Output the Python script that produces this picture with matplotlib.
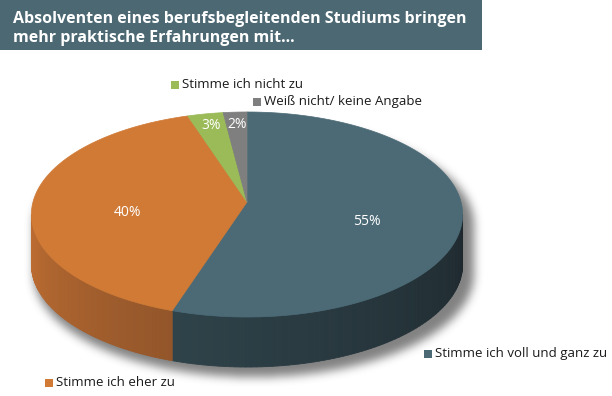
import numpy as np
import matplotlib
matplotlib.use('Agg')
import matplotlib.pyplot as plt
from matplotlib.patches import Polygon, Rectangle
from matplotlib.path import Path
from matplotlib.colors import to_rgb

# chart data
title_lines = ['Absolventen eines berufsbegleitenden Studiums bringen',
               'mehr praktische Erfahrungen mit...']
labels = ['Stimme ich voll und ganz zu', 'Stimme ich eher zu',
          'Stimme ich nicht zu', 'Weiß nicht/ keine Angabe']
values = [55, 40, 3, 2]
colors = ['#4b6a76', '#d07a36', '#9bbb59', '#7f7f7f']
side_light = ['#2f434a', '#c06e32', '#7d9a45', '#666666']
side_dark = ['#1e292e', '#93562a', '#60783a', '#4d4d4d']

# pie geometry in pixels (y grows downward)
CX, CY = 247, 202
A, B, P = 214, 101, 0.122
DEPTH = 50


def proj(r, th):
    X = r * np.cos(th)
    Y = r * np.sin(th)
    d = 1 + P * Y
    return CX + A * X / d, CY - B * Y / d


fig = plt.figure(figsize=(6.12, 3.96), dpi=100)
ax = fig.add_axes([0, 0, 1, 1])
ax.set_xlim(0, 612)
ax.set_ylim(396, 0)
ax.axis('off')

# front arc limits (silhouette tangents)
t_left = np.pi + np.arcsin(P)
t_right = 2 * np.pi - np.arcsin(P)

# soft shadow under the pie
back = np.linspace(t_right - 2 * np.pi, t_left, 200)
front = np.linspace(t_left, t_right, 200)
bx, by = proj(1, back)
fx, fy = proj(1, front)
sil = np.vstack([np.column_stack([bx, by]), np.column_stack([fx, fy + DEPTH])])
gx, gy = np.meshgrid(np.arange(612) + 0.5, np.arange(396) + 0.5)
pts = np.column_stack([gx.ravel(), gy.ravel()])
shifted = sil.copy()
shifted[:, 0] = CX + (shifted[:, 0] - CX) * 1.02 + 7
shifted[:, 1] = shifted[:, 1] + 10
mask = Path(shifted).contains_points(pts).reshape(gx.shape).astype(float)
k = np.ones(9) / 9
for _ in range(3):
    mask = np.apply_along_axis(lambda v: np.convolve(v, k, mode='same'), 1, mask)
    mask = np.apply_along_axis(lambda v: np.convolve(v, k, mode='same'), 0, mask)
shadow = np.zeros((396, 612, 4))
shadow[..., :3] = 0.3
shadow[..., 3] = mask * 0.7
ax.imshow(shadow, extent=(0, 612, 396, 0), zorder=0, interpolation='bilinear')

# slice angles, clockwise from 12 o'clock
cum = np.concatenate([[0], np.cumsum(values)]) / sum(values) * 2 * np.pi
starts = np.pi / 2 - cum[:-1]
ends = np.pi / 2 - cum[1:]

# side walls
for i in range(len(values)):
    lo, hi = ends[i], starts[i]
    for shift in (-2 * np.pi, 0, 2 * np.pi):
        a0 = max(lo + shift, t_left)
        a1 = min(hi + shift, t_right)
        if a1 <= a0:
            continue
        n = 80
        ts = np.linspace(a0, a1, n + 1)
        c0, c1 = np.array(to_rgb(side_light[i])), np.array(to_rgb(side_dark[i]))
        for j in range(n):
            x0, y0 = proj(1, ts[j])
            x1, y1 = proj(1, ts[j + 1])
            col = c0 + (c1 - c0) * (j + 0.5) / n
            ax.add_patch(Polygon([(x0, y0), (x1, y1), (x1, y1 + DEPTH), (x0, y0 + DEPTH)],
                                 closed=True, facecolor=col, edgecolor=col,
                                 linewidth=0.6, zorder=2))

# top faces
for i in range(len(values)):
    ts = np.linspace(starts[i], ends[i], 120)
    x, y = proj(1, ts)
    poly = np.vstack([[CX, CY], np.column_stack([x, y])])
    ax.add_patch(Polygon(poly, closed=True, facecolor=colors[i],
                         edgecolor=colors[i], linewidth=0.5, zorder=3))

# percentage labels
for i, v in enumerate(values):
    mid = (starts[i] + ends[i]) / 2
    if v < 5:
        lx, ly = proj(0.85, mid)
    else:
        lx, ly = proj(0.56, mid)
        ly += 11
    ax.text(lx, ly, f'{v}%', color='white', fontsize=10, family='Open Sans',
            ha='center', va='center', zorder=5)

# legend entries placed next to the slices
legend_pos = [(424, 354), (45, 383), (171, 85), (253, 102)]
for i, (lx, ly) in enumerate(legend_pos):
    ax.add_patch(Rectangle((lx, ly - 4), 8, 8, facecolor=colors[i], edgecolor='none', zorder=5))
    ax.text(lx + 11, ly, labels[i], color='#1a1a1a', fontsize=9.5, family='Open Sans',
            ha='left', va='center', zorder=5)

# title box
ax.add_patch(Rectangle((0, 0), 482, 50, facecolor='#4b6873', edgecolor='none', zorder=4))
for n, line in enumerate(title_lines):
    ax.text(13, 23 + 19 * n, line, color='white', fontsize=11.5, fontweight='bold',
            family='Open Sans', ha='left', va='baseline', zorder=5)

fig.savefig('out.png', dpi=100)
